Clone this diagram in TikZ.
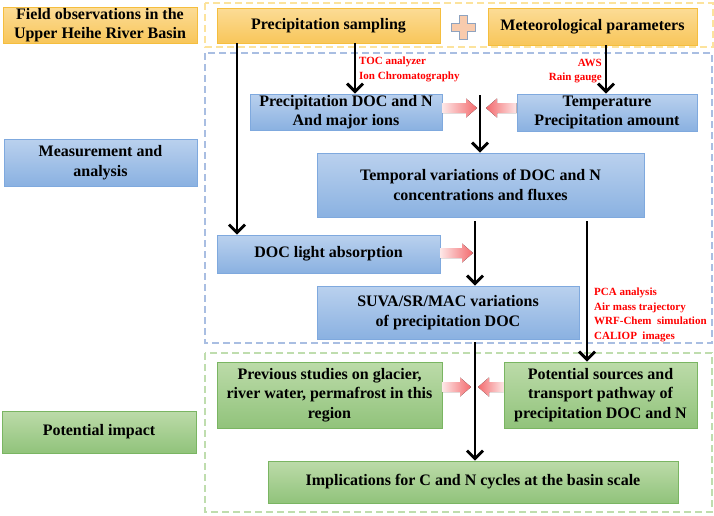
\documentclass[tikz,border=0pt]{standalone}
\usepackage{fontspec}
\setmainfont{Liberation Serif}
\usetikzlibrary{arrows.meta,calc}
\definecolor{bTop}{HTML}{BAD1EE}
\definecolor{bBot}{HTML}{8AB1E1}
\definecolor{bLine}{HTML}{7FA9DE}
\definecolor{oTop}{HTML}{FCDC96}
\definecolor{oBot}{HTML}{F8C65A}
\definecolor{oLine}{HTML}{F5BE3E}
\definecolor{gTop}{HTML}{BCDBA9}
\definecolor{gBot}{HTML}{91C37B}
\definecolor{gLine}{HTML}{7AB562}
\definecolor{dY}{HTML}{FCE39D}
\definecolor{dB}{HTML}{A9BEE2}
\definecolor{dG}{HTML}{BFDDAE}
\definecolor{pinkD}{HTML}{F36A6D}
\definecolor{pinkL}{HTML}{FDE6E6}
\definecolor{plusF}{HTML}{F8CBAD}
\definecolor{plusL}{HTML}{8FA3BF}
\newcommand\pinkR[2]{\fill[left color=pinkL, right color=pinkD] let \p1=(#1), \p2=(#2) in
  (\x1,\y1+5pt) -- (\x2-11pt,\y1+5pt) -- (\x2-11pt,\y1+9.5pt) -- (\x2,\y1) -- (\x2-11pt,\y1-9.5pt) -- (\x2-11pt,\y1-5pt) -- (\x1,\y1-5pt) -- cycle;}
\newcommand\pinkL[2]{\fill[left color=pinkD, right color=pinkL] let \p1=(#1), \p2=(#2) in
  (\x1,\y1+5pt) -- (\x2+11pt,\y1+5pt) -- (\x2+11pt,\y1+9.5pt) -- (\x2,\y1) -- (\x2+11pt,\y1-9.5pt) -- (\x2+11pt,\y1-5pt) -- (\x1,\y1-5pt) -- cycle;}
\tikzset{
  box/.style={draw, line width=0.8pt, align=center, inner sep=0pt,
    font=\fontsize{16}{19.5}\selectfont\bfseries},
  bbox/.style={box, draw=bLine, top color=bTop, bottom color=bBot},
  obox/.style={box, draw=oLine, top color=oTop, bottom color=oBot},
  gbox/.style={box, draw=gLine, top color=gTop, bottom color=gBot},
  redtxt/.style={text=red, inner sep=0pt, font=\fontsize{11}{14.5}\selectfont\bfseries},
  arr/.style={line width=2.9pt, -{Straight Barb[length=8pt,width=16pt]}},
  grp/.style={line width=1.6pt, dash pattern=on 7pt off 4pt},
}
\begin{document}
\begin{tikzpicture}[x=1pt,y=-1pt]
\useasboundingbox (0,0) rectangle (714,515);
% group frames
\draw[grp, draw=dY] (205,3) rectangle (713,47);
\draw[grp, draw=dB] (205,53) rectangle (712,343);
\draw[grp, draw=dG] (205,353) rectangle (712,512);
% left column
\node[obox, minimum width=194pt, minimum height=36pt] (field) at (100,25) {Field observations in the\\Upper Heihe River Basin};
\node[bbox, minimum width=193pt, minimum height=47pt] (meas) at (100.5,162.5) {Measurement and\\analysis};
\node[gbox, minimum width=194pt, minimum height=42pt] (impact) at (99,432) {Potential impact};
% top row
\node[obox, minimum width=223pt, minimum height=35pt] (sampling) at (328.5,25.5) {Precipitation sampling};
\node[obox, minimum width=209pt, minimum height=37pt] (meteo) at (592.5,26.5) {Meteorological parameters};
\draw[draw=plusL, fill=plusF, line width=0.8pt]
  (459,15) -- (467,15) -- (467,23) -- (475,23) -- (475,31) -- (467,31) -- (467,39) -- (459,39) -- (459,31) -- (451,31) -- (451,23) -- (459,23) -- cycle;
% measurement boxes
\node[bbox, minimum width=192pt, minimum height=36pt] (pdoc) at (346,112) {Precipitation DOC and N\\And major ions};
\node[bbox, minimum width=180pt, minimum height=37pt] (temp) at (607,112.5) {Temperature\\Precipitation amount};
\node[bbox, minimum width=327pt, minimum height=64pt] (tempvar) at (480.5,185) {Temporal variations of DOC and N\\concentrations and fluxes};
\node[bbox, minimum width=223pt, minimum height=38pt] (light) at (328.5,254) {DOC light absorption};
\node[bbox, minimum width=262pt, minimum height=53pt] (suva) at (448,312.5) {SUVA/SR/MAC variations\\of precipitation DOC};
% impact boxes
\node[gbox, minimum width=225pt, minimum height=66pt] (prev) at (329.5,395) {Previous studies on glacier,\\river water, permafrost in this\\region};
\node[gbox, minimum width=193pt, minimum height=66pt] (sources) at (600.5,395) {Potential sources and\\transport pathway of\\precipitation DOC and N};
\node[gbox, minimum width=410pt, minimum height=42pt] (impl) at (473,482) {Implications for C and N cycles at the basin scale};
% red annotations
\node[redtxt, anchor=west, align=left] (toc) at (359,69.5) {TOC analyzer\\Ion Chromatography};
\node[redtxt, anchor=east, align=right] (aws) at (602,71) {AWS\\Rain gauge};
\node[redtxt, anchor=west, align=left] (pca) at (594,315) {PCA analysis\\Air mass trajectory\\WRF-Chem\ \ simulation\\CALIOP\ \ images};
% black arrows
\draw[arr] (sampling.south -| 237,0) -- (light.north -| 237,0);
\draw[arr] (sampling.south -| 355,0) -- (pdoc.north -| 355,0);
\draw[arr] (meteo.south -| 606,0) -- (temp.north -| 606,0);
\coordinate (j1) at (480,95);
\draw[arr] (j1) -- (tempvar.north -| j1);
\coordinate (j2) at (475,221);
\draw[arr] (j2) -- (suva.north -| j2);
\coordinate (j3) at (587,221);
\draw[arr] (j3) -- (sources.north -| j3);
\coordinate (j4) at (475,342);
\draw[arr] (j4) -- (impl.north -| j4);
% pink arrows
\coordinate (p1s) at (pdoc.east |- 0,108);
\coordinate (p1e) at (477,108);
\pinkR{p1s}{p1e}
\coordinate (p2s) at (temp.west |- 0,108);
\coordinate (p2e) at (486,108);
\pinkL{p2s}{p2e}
\coordinate (p3s) at (light.east |- 0,253);
\coordinate (p3e) at (473,253);
\pinkR{p3s}{p3e}
\coordinate (p4s) at (prev.east |- 0,387);
\coordinate (p4e) at (471,387);
\pinkR{p4s}{p4e}
\coordinate (p5s) at (sources.west |- 0,387);
\coordinate (p5e) at (478,387);
\pinkL{p5s}{p5e}
\end{tikzpicture}
\end{document}
